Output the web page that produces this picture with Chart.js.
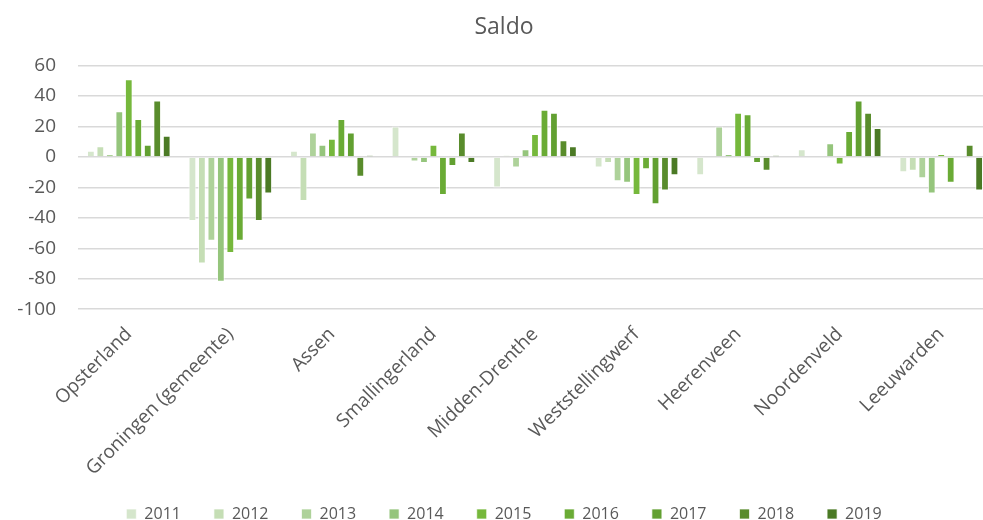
<!DOCTYPE html>
<html>
<head>
<meta charset="utf-8">
<script src="https://cdn.jsdelivr.net/npm/chart.js@4/dist/chart.umd.min.js"></script>
<style>
    html, body { margin: 0; padding: 0; overflow: hidden; background: #fff; }
    #wrap { position: absolute; left: 0; top: 0; width: 1010px; height: 532px; }
</style>
</head>
<body>
<div id="wrap"><canvas id="saldo"></canvas></div>
<script>
const gemeenten = ["Opsterland", "Groningen (gemeente)", "Assen", "Smallingerland", "Midden-Drenthe",
    "Weststellingwerf", "Heerenveen", "Noordenveld", "Leeuwarden"];
const jaren = ["2011", "2012", "2013", "2014", "2015", "2016", "2017", "2018", "2019"];

// saldo per jaar, volgorde zoals gemeenten
const saldo2011 = [4, -42, 4, 20, -20, -7, -12, 5, -10];
const saldo2012 = [7, -70, -29, 0, 1, -4, 0, 0, -9];
const saldo2013 = [2, -55, 16, -3, -7, -16, 20, 0, -14];
const saldo2014 = [30, -82, 8, -4, 5, -17, 2, 9, -24];
const saldo2015 = [51, -63, 12, 8, 15, -25, 29, -5, 2];
const saldo2016 = [25, -55, 25, -25, 31, -8, 28, 17, -17];
const saldo2017 = [8, -28, 16, -6, 29, -31, -4, 37, 0];
const saldo2018 = [37, -42, -13, 16, 11, -22, -9, 29, 8];
const saldo2019 = [14, -24, 1, -4, 7, -12, 1, 19, -22];

const yTicks = [-100, -80, -60, -40, -20, 0, 20, 40, 60];

const reeksen = [saldo2011, saldo2012, saldo2013, saldo2014, saldo2015, saldo2016, saldo2017, saldo2018, saldo2019];
const kleuren = ["#d5e6cc", "#c5deb5", "#aed29a", "#95c57c", "#76b83c", "#6aab35", "#62a031", "#598c2c", "#4b7a25"];

const tekstKleur = "#595959";
const font = "'Open Sans', 'Noto Sans', sans-serif";

function createChart(name) {
    let ctx = document.getElementById(name).getContext("2d");
    return new Chart(ctx, {
        type: "bar",
        data: {
            labels: gemeenten,
            datasets: jaren.map((jaar, i) => ({
                label: jaar,
                data: reeksen[i],
                backgroundColor: kleuren[i],
                borderColor: "rgba(255, 255, 255, 0.7)",
                borderWidth: 1,
                categoryPercentage: 0.84,
                barPercentage: 0.82,
            })),
        },
        options: {
            responsive: true,
            maintainAspectRatio: false,
            animation: false,
            layout: { autoPadding: false, padding: { left: 16, right: 18, top: 0, bottom: 0 } },
            plugins: {
                title: {
                    display: true,
                    text: "Saldo",
                    color: tekstKleur,
                    font: { family: font, size: 23, weight: "normal" },
                    padding: { top: 14, bottom: 24 },
                },
                legend: {
                    position: "bottom",
                    labels: {
                        color: tekstKleur,
                        font: { family: font, size: 16 },
                        boxWidth: 10,
                        boxHeight: 10,
                        padding: 33,
                    },
                },
                tooltip: { enabled: false },
            },
            scales: {
                x: {
                    grid: { display: false },
                    border: { display: false },
                    afterFit: (scale) => {
                        scale.height -= 13;
                    },
                    ticks: {
                        color: tekstKleur,
                        font: { family: font, size: 19 },
                        minRotation: 45,
                        maxRotation: 45,
                        padding: 6,
                    },
                },
                y: {
                    min: -100,
                    max: 60,
                    afterBuildTicks: (axis) => {
                        axis.ticks = yTicks.map((v) => ({ value: v }));
                    },
                    afterFit: (scale) => {
                        scale.width = 62;
                    },
                    grid: { color: "#d9d9d9", lineWidth: 1.5, drawTicks: false },
                    border: { display: false },
                    ticks: {
                        color: tekstKleur,
                        font: { family: font, size: 19 },
                        padding: 22,
                    },
                },
            },
        },
    });
}

createChart("saldo");
</script>
</body>
</html>
